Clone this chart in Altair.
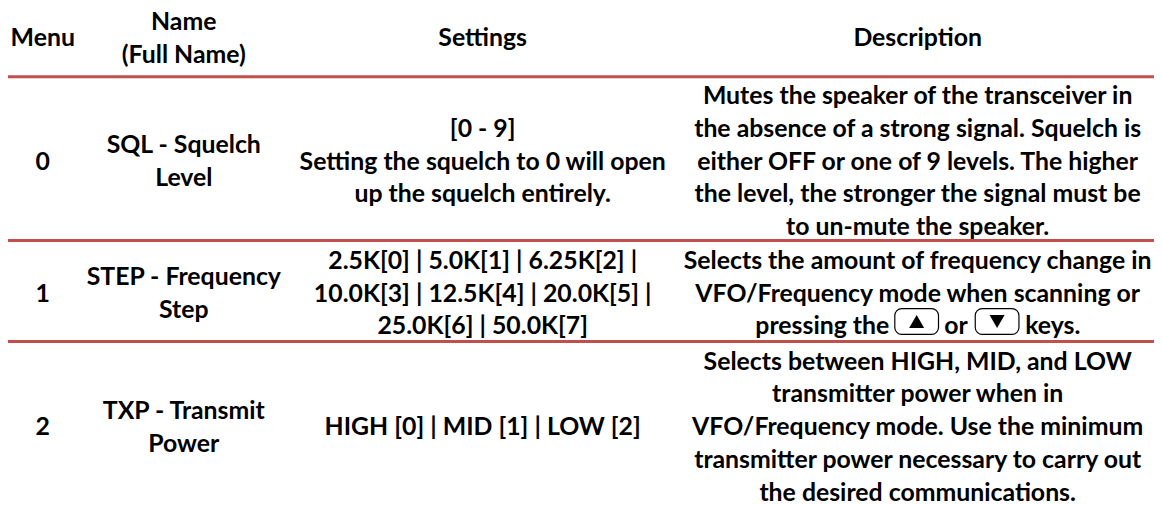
import altair as alt
import pandas as pd

HEAD = ["Menu", "Name\n(Full Name)", "Settings", "Description"]
R0 = ["0", "SQL - Squelch\nLevel", "[0 - 9]\nSetting the squelch to 0 will open\nup the squelch entirely.",
      "Mutes the speaker of the transceiver in\nthe absence of a strong signal. Squelch is\neither OFF or one of 9 levels. The higher\nthe level, the stronger the signal must be\nto un-mute the speaker."]
R1 = ["1", "STEP - Frequency\nStep", "2.5K[0] | 5.0K[1] | 6.25K[2] |\n10.0K[3] | 12.5K[4] | 20.0K[5] |\n25.0K[6] | 50.0K[7]",
      "Selects the amount of frequency change in\nVFO/Frequency mode when scanning or\n "]
R2 = ["2", "TXP - Transmit\nPower", "HIGH [0] | MID [1] | LOW [2]",
      "Selects between HIGH, MID, and LOW\ntransmitter power when in\nVFO/Frequency mode. Use the minimum\ntransmitter power necessary to carry out\nthe desired communications."]
COL_X = [35, 177, 478, 916]
ROW_Y = [29, 153, 286, 420.5]
RULE_Y = [67.5, 232.5, 334]
INLINE_TEXT = ["pressing the", "or", "keys."]
INLINE_X = [820, 954.5, 1052]
INLINE_Y = 319
BTN_X = [893, 974]
BTN_X2 = [937, 1018]
BTN_Y, BTN_Y2 = 301, 327
TRI_X = [915, 996]
TRI_SHAPE = ["triangle-up", "triangle-down"]
FONT = "Lato"
SIZE = 25
LINE = 33
RED = "#c0504d"
W, H = 1154, 497

records = []
for ry, cells in zip(ROW_Y, [HEAD, R0, R1, R2]):
    for cx, t in zip(COL_X, cells):
        parts = t.split("\n")
        for i, p in enumerate(parts):
            records.append({"x": cx, "y": ry + (i - (len(parts) - 1) / 2) * LINE, "t": p})
df = pd.DataFrame(records)

xs = alt.Scale(domain=[0, W], range=[0, W])
ys = alt.Scale(domain=[0, H], range=[0, H])
X = alt.X("x:Q", scale=xs, axis=None)
Y = alt.Y("y:Q", scale=ys, axis=None)
style = dict(font=FONT, fontWeight="bold", fontSize=SIZE, color="#000000", align="center", baseline="middle")

text = alt.Chart(df).mark_text(**style).encode(x=X, y=Y, text="t:N")
inline = alt.Chart(pd.DataFrame({"x": INLINE_X, "y": INLINE_Y, "t": INLINE_TEXT})).mark_text(**style).encode(x=X, y=Y, text="t:N")

rules = alt.Chart(pd.DataFrame({"y": RULE_Y, "x": -2, "x2": W})).mark_rule(color=RED, strokeWidth=3).encode(
    x=X, x2="x2:Q", y=Y)

btn = alt.Chart(pd.DataFrame({"x": BTN_X, "x2": BTN_X2, "y": BTN_Y, "y2": BTN_Y2})).mark_rect(
    fill="#ffffff", stroke="#000000", strokeWidth=1.2, cornerRadius=7).encode(x=X, x2="x2:Q", y=Y, y2="y2:Q")
tri = alt.Chart(pd.DataFrame({"x": TRI_X, "y": (BTN_Y + BTN_Y2) / 2, "s": TRI_SHAPE})).mark_point(
    filled=True, color="#000000", size=230, opacity=1).encode(
    x=X, y=Y, shape=alt.Shape("s:N", scale=alt.Scale(domain=TRI_SHAPE, range=TRI_SHAPE), legend=None))

chart = alt.layer(rules, btn, tri, text, inline).properties(
    width=W, height=H, padding=0, autosize="none").configure_view(stroke=None)
chart.save("out.html", embed_options={"renderer": "svg", "actions": False})
